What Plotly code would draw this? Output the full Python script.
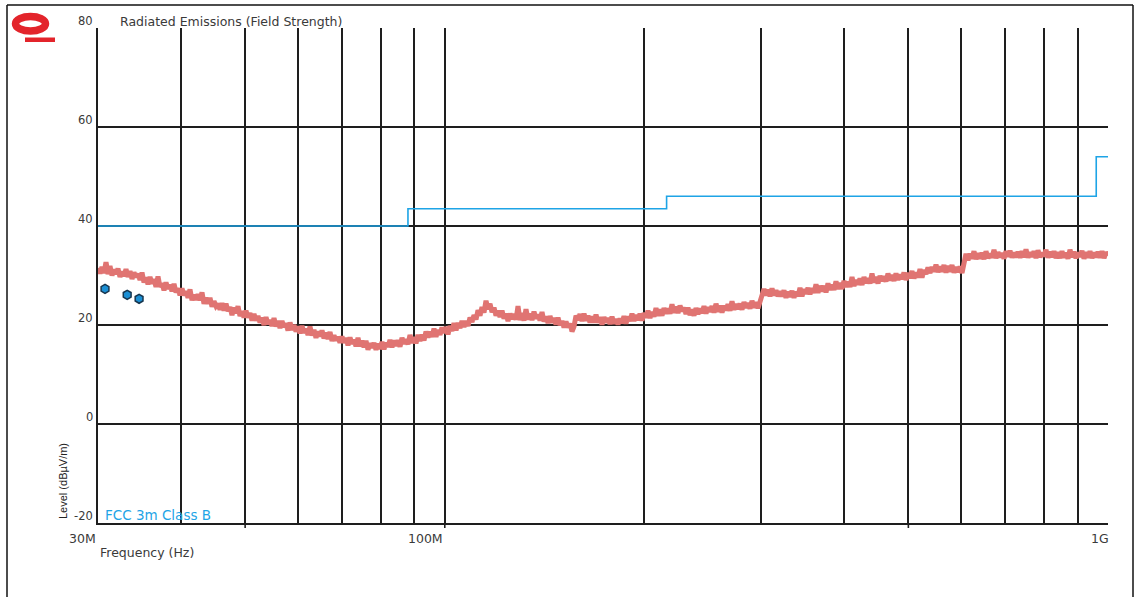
import numpy as np
import plotly.graph_objects as go

# ---- sweep settings (logarithmic scan, 30 MHz .. 1 GHz) ----
F_START = 30e6
F_STOP = 1e9
N_POINTS = 506
freq_hz = np.geomspace(F_START, F_STOP, N_POINTS)

# ---- peak detector scan, dBuV/m ----
peak_level = [
    31.5, 30.4, 31.7, 30.5, 32.7, 30.3, 31.9, 30.0, 31.2, 30.3,
    31.4, 29.7, 30.8, 29.9, 31.3, 29.7, 30.9, 29.3, 30.6, 29.7,
    30.3, 29.1, 30.6, 28.6, 29.6, 28.2, 29.7, 28.4, 29.2, 27.7,
    29.8, 27.7, 28.4, 27.0, 28.6, 27.3, 28.1, 26.8, 28.3, 26.6,
    27.4, 26.0, 27.4, 26.0, 26.8, 25.5, 27.2, 25.0, 26.1, 25.1,
    26.2, 25.0, 26.6, 24.3, 25.5, 24.3, 25.5, 23.7, 24.8, 23.8,
    24.3, 23.1, 24.4, 22.9, 24.3, 22.8, 23.6, 22.0, 23.5, 22.4,
    23.8, 21.8, 22.8, 21.5, 22.9, 21.5, 22.4, 20.9, 22.2, 20.9,
    21.8, 20.5, 21.5, 20.0, 21.6, 20.2, 21.0, 19.8, 21.4, 19.7,
    20.8, 19.4, 20.8, 19.6, 20.3, 18.9, 20.5, 19.0, 20.0, 18.7,
    19.7, 18.3, 19.8, 18.4, 19.2, 18.0, 19.7, 17.9, 19.0, 17.4,
    18.7, 17.7, 18.9, 17.3, 18.4, 17.2, 18.6, 16.8, 17.9, 16.9,
    17.6, 16.4, 17.7, 16.4, 17.4, 15.9, 17.5, 16.2, 17.0, 15.7,
    17.4, 15.7, 16.8, 15.5, 16.8, 15.0, 16.3, 15.4, 16.4, 15.0,
    16.2, 15.2, 16.6, 15.1, 16.4, 15.6, 17.0, 15.5, 16.9, 15.8,
    16.9, 15.6, 17.4, 16.2, 17.1, 16.1, 18.0, 16.4, 17.5, 16.3,
    18.0, 16.8, 18.0, 16.9, 18.7, 17.5, 18.6, 17.6, 19.3, 17.6,
    19.0, 18.0, 19.5, 18.4, 19.6, 18.1, 19.8, 18.8, 20.4, 18.9,
    20.4, 19.4, 20.8, 19.6, 20.8, 19.8, 21.5, 20.6, 22.0, 21.1,
    23.0, 21.9, 23.6, 22.5, 24.9, 23.2, 24.3, 22.6, 23.5, 21.9,
    22.9, 21.6, 22.9, 21.3, 22.3, 20.8, 22.3, 21.2, 22.2, 21.1,
    23.8, 21.0, 22.4, 20.9, 23.2, 21.1, 22.3, 21.0, 22.7, 21.3,
    22.1, 20.9, 22.6, 20.7, 21.7, 20.4, 21.8, 20.5, 21.4, 20.1,
    21.5, 20.0, 20.8, 19.5, 20.7, 19.5, 20.3, 18.7, 19.7, 21.9,
    21.0, 22.2, 20.8, 22.3, 20.9, 21.9, 20.5, 21.7, 20.5, 22.1,
    20.5, 21.6, 20.1, 21.6, 20.5, 21.4, 20.2, 21.7, 20.3, 21.2,
    20.1, 21.3, 20.4, 21.8, 20.3, 21.7, 20.8, 22.3, 20.8, 22.0,
    21.0, 22.3, 20.9, 22.4, 21.5, 22.9, 21.4, 22.6, 21.7, 23.4,
    21.9, 23.1, 21.9, 23.4, 22.3, 23.3, 22.3, 24.2, 22.5, 23.7,
    22.4, 23.9, 22.8, 23.5, 22.2, 23.5, 22.0, 23.1, 21.9, 23.4,
    22.2, 23.3, 22.4, 23.8, 22.3, 23.6, 22.7, 23.8, 22.5, 24.3,
    22.7, 23.9, 22.5, 23.9, 23.0, 24.2, 22.9, 24.8, 23.1, 24.2,
    23.2, 24.3, 23.1, 24.6, 23.5, 24.4, 23.3, 24.9, 23.5, 24.6,
    23.4, 24.6, 25.7, 27.3, 26.0, 27.1, 25.8, 27.4, 26.0, 27.0,
    25.8, 26.8, 25.8, 27.0, 25.5, 26.7, 25.7, 26.9, 25.5, 26.7,
    25.8, 27.5, 25.8, 27.2, 26.3, 27.5, 26.2, 27.4, 26.5, 28.2,
    26.5, 27.9, 26.8, 27.9, 26.6, 28.4, 27.1, 28.1, 27.1, 28.8,
    27.3, 28.5, 27.3, 28.9, 27.7, 28.7, 27.7, 29.7, 27.9, 29.1,
    28.2, 29.4, 28.1, 29.7, 28.5, 29.4, 28.4, 30.4, 28.6, 29.7,
    28.4, 29.9, 28.9, 29.8, 28.8, 30.4, 29.0, 30.1, 28.9, 30.4,
    29.1, 30.2, 29.3, 30.6, 29.1, 30.5, 29.5, 30.9, 29.4, 30.6,
    29.6, 31.3, 29.6, 31.1, 30.3, 31.6, 30.5, 31.7, 30.8, 32.2,
    30.7, 31.8, 30.8, 32.1, 30.6, 31.9, 30.8, 32.1, 30.6, 31.7,
    30.7, 31.8, 30.5, 33.2, 34.4, 33.1, 34.4, 33.4, 34.9, 33.3,
    34.5, 33.4, 34.6, 33.3, 34.9, 33.5, 34.4, 33.6, 35.2, 33.5,
    34.7, 33.7, 34.5, 33.4, 34.9, 33.8, 35.0, 33.6, 34.6, 33.7,
    34.8, 33.6, 34.9, 33.7, 35.3, 33.6, 34.7, 33.8, 34.9, 33.5,
    35.1, 33.7, 34.6, 33.9, 35.2, 33.6, 34.8, 33.7, 34.9, 33.5,
    34.7, 33.5, 34.9, 33.6, 34.6, 33.4, 35.2, 33.7, 34.8, 33.5,
    34.6, 33.8, 35.0, 33.4, 34.7, 33.6, 34.9, 33.5, 34.6, 33.7,
    34.8, 33.6, 34.9, 33.5, 34.7, 34.0,
]

# ---- quasi-peak final measurements ----
qp_freq_hz = [30.74e6, 33.2e6, 34.6e6]
qp_level = [27.3, 26.1, 25.3]

# ---- FCC Part 15 Class B, 3 m limit ----
limit_freq_hz = [30e6, 88e6, 88e6, 216e6, 216e6, 960e6, 960e6, 1000e6]
limit_level = [40, 40, 43.5, 43.5, 46, 46, 54, 54]

# ---- axis ticks ----
grid_freq_hz = [40e6, 50e6, 60e6, 70e6, 80e6, 90e6, 100e6, 200e6, 300e6,
                400e6, 500e6, 600e6, 700e6, 800e6, 900e6, 1000e6]
freq_labels = {30e6: "30M", 100e6: "100M", 1000e6: "1G"}
level_ticks = [-20, 0, 20, 40, 60, 80]
long_tick_freq_hz = [50e6, 100e6, 500e6]

Y_MIN, Y_MAX = -20, 80
W, H = 1139, 597
M_L, M_R, M_T, M_B = 98, 31, 28, 74
PLOT_W = W - M_L - M_R
PLOT_H = H - M_T - M_B

TEXT = "#3a3a3a"
GRID = "#1e1e1e"
TRACE = "#e07472"
LIMIT = "#1ea4e6"
LOGO = "#e3242b"
FONT = "DejaVu Sans"


def xpaper(f):
    lo, hi = np.log10(F_START), np.log10(F_STOP)
    return (np.log10(f) - lo) / (hi - lo)


def px_x(px):
    return (px - M_L) / PLOT_W


def px_y(py):
    return (M_T + PLOT_H - py) / PLOT_H


fig = go.Figure()

fig.add_trace(go.Scatter(
    x=limit_freq_hz, y=limit_level, mode="lines",
    line=dict(color=LIMIT, width=1.6), name="FCC 3m Class B",
    hoverinfo="skip",
))
fig.add_trace(go.Scatter(
    x=freq_hz, y=peak_level, mode="lines",
    line=dict(color=TRACE, width=5), name="Peak",
))
fig.add_trace(go.Scatter(
    x=qp_freq_hz, y=qp_level, mode="markers",
    marker=dict(color="#1b8fd4", size=9, symbol="hexagon",
                line=dict(color="#17364f", width=1.5)),
    name="QP",
))

fig.update_xaxes(
    type="log", range=[np.log10(F_START), np.log10(F_STOP)],
    tickvals=grid_freq_hz, showticklabels=False, ticks="",
    showgrid=True, gridcolor=GRID, gridwidth=1.6,
    showline=True, linecolor=GRID, linewidth=1.6, mirror=False,
    zeroline=False,
)
fig.update_yaxes(
    range=[Y_MIN, Y_MAX], tickvals=level_ticks[:-1], showticklabels=False,
    ticks="", showgrid=True, gridcolor=GRID, gridwidth=1.6,
    showline=True, linecolor=GRID, linewidth=1.6, mirror=False,
    zeroline=False,
)

annotations = []
for v in level_ticks:
    annotations.append(dict(
        x=px_x(95), xref="paper", y=v, yref="y", yshift=7,
        text=str(v), showarrow=False, xanchor="right", yanchor="middle",
        font=dict(family=FONT, size=11.5, color=TEXT),
    ))
for f, lab in freq_labels.items():
    annotations.append(dict(
        x=xpaper(f), xref="paper", y=0, yref="paper", yshift=-6,
        xshift=3 if f == 1000e6 else 0,
        text=lab, showarrow=False, xanchor="right", yanchor="top",
        font=dict(family=FONT, size=12.5, color=TEXT),
    ))
annotations += [
    dict(x=0, xref="paper", y=0, yref="paper", yshift=-20,
         text="Frequency (Hz)", showarrow=False, xanchor="left",
         yanchor="top", font=dict(family=FONT, size=12.5, color=TEXT)),
    dict(x=px_x(118), xref="paper", y=Y_MAX, yref="y", yshift=7,
         text="Radiated Emissions (Field Strength)", showarrow=False,
         xanchor="left", yanchor="middle",
         font=dict(family=FONT, size=12.5, color=TEXT)),
    dict(x=px_x(103), xref="paper", y=Y_MIN, yref="y", yshift=8,
         text="FCC 3m Class B", showarrow=False, xanchor="left",
         yanchor="middle", font=dict(family=FONT, size=13.5, color=LIMIT)),
    dict(x=px_x(63), xref="paper", y=px_y(481), yref="paper",
         text="Level (dBµV/m)", showarrow=False, textangle=-90,
         xanchor="center", yanchor="middle",
         font=dict(family="Liberation Sans", size=11, color="#222")),
]

shapes = [
    # page frame
    dict(type="line", xref="paper", yref="paper", x0=px_x(7), x1=px_x(7),
         y0=px_y(5), y1=px_y(600), line=dict(color="#111", width=1.5)),
    dict(type="line", xref="paper", yref="paper", x0=px_x(7), x1=px_x(1133),
         y0=px_y(5), y1=px_y(5), line=dict(color="#111", width=1.5)),
    dict(type="line", xref="paper", yref="paper", x0=px_x(1133), x1=px_x(1133),
         y0=px_y(5), y1=px_y(600), line=dict(color="#111", width=1.5)),
    # logo
    dict(type="circle", xref="paper", yref="paper",
         x0=px_x(15.5), x1=px_x(45.5), y0=px_y(31), y1=px_y(16.5),
         line=dict(color=LOGO, width=7.5)),
    dict(type="rect", xref="paper", yref="paper",
         x0=px_x(25), x1=px_x(55), y0=px_y(42), y1=px_y(37.5),
         fillcolor=LOGO, line=dict(width=0)),
]
for f in long_tick_freq_hz:
    shapes.append(dict(type="line", xref="paper", yref="paper",
                       x0=xpaper(f), x1=xpaper(f), y0=0, y1=-5 / PLOT_H,
                       line=dict(color=GRID, width=1.6)))

fig.update_layout(
    width=W, height=H,
    margin=dict(l=M_L, r=M_R, t=M_T, b=M_B),
    paper_bgcolor="white", plot_bgcolor="white",
    showlegend=False,
    annotations=annotations, shapes=shapes,
)

fig.write_html("out.html")
